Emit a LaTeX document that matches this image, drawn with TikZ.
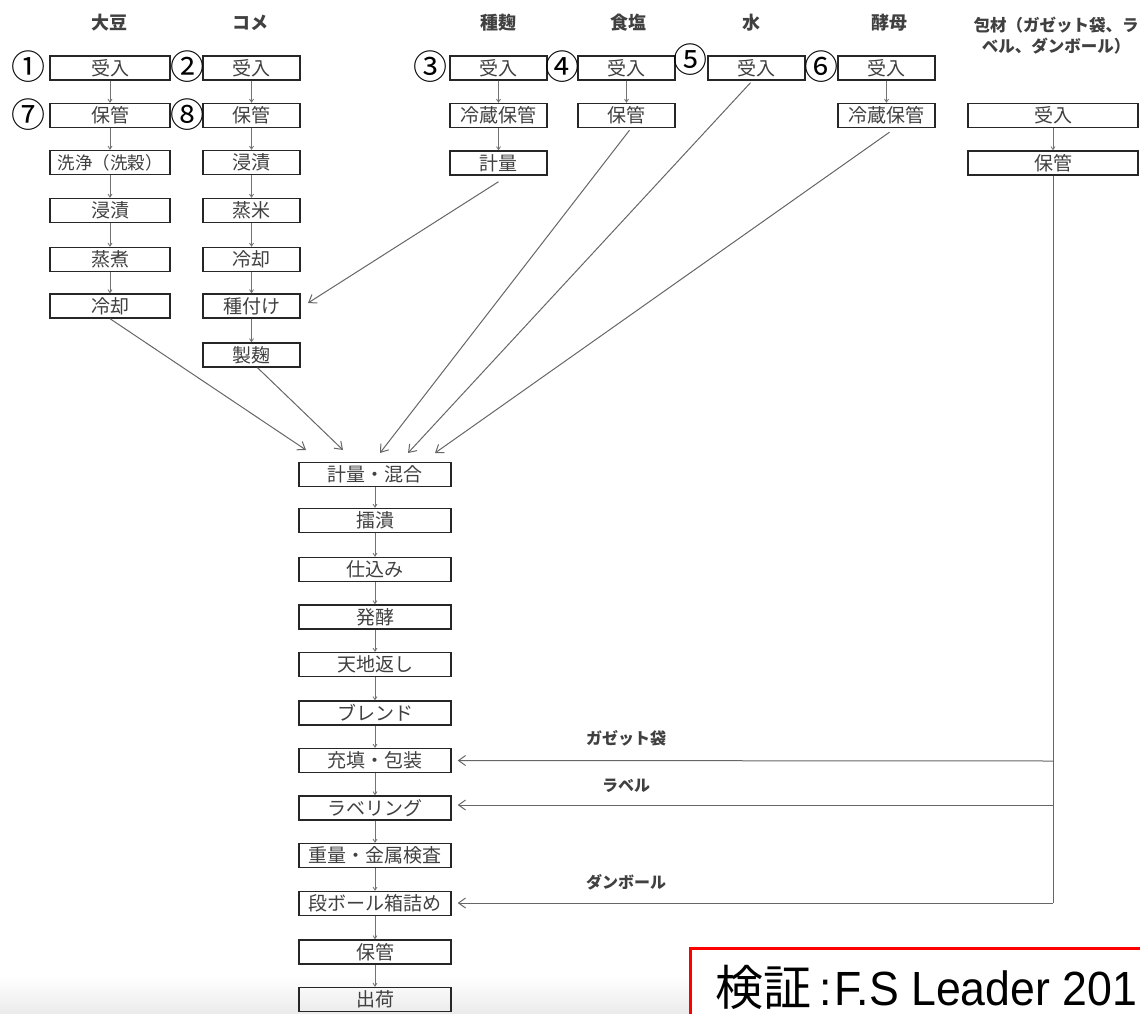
\documentclass[tikz,border=0pt]{standalone}
\usepackage{fontspec}
\setmainfont{Liberation Sans}
\newfontfamily\jp{Noto Sans CJK JP}
\usetikzlibrary{arrows.meta,calc}
\begin{document}
\begin{tikzpicture}[x=1pt,y=-1pt,
  box/.style={draw=black!85,line width=1.4pt,minimum height=24pt,inner sep=0pt,font=\jp\fontsize{19}{19}\selectfont,text=black!75},
  wA/.style={minimum width=120pt}, wB/.style={minimum width=97pt},
  wP/.style={minimum width=170pt}, wM/.style={minimum width=152pt},
  hd/.style={font=\jp\bfseries\fontsize{18}{22}\selectfont,text=black!75,inner sep=0pt,align=center},
  num/.style={font=\jp\fontsize{34}{34}\selectfont,inner sep=0pt},
  vflow/.style={draw=black!55,line width=0.8pt,-{Straight Barb[length=3pt,width=4pt]}},
  arr/.style={draw=black!60,line width=1pt,-{Straight Barb[length=7pt,width=10pt]}},
  lbl/.style={font=\jp\bfseries\fontsize{16}{16}\selectfont,text=black!75,inner sep=0pt}]
\useasboundingbox (0,0) rectangle (1140,1014);
\shade[top color=white,bottom color=black!8] (0,976) rectangle (1140,1014);

% headers
\node[hd] (h1) at (109,23) {大豆};
\node[hd] (h2) at (250,23) {コメ};
\node[hd] (h3) at (498,23) {種麹};
\node[hd] (h4) at (628,23) {食塩};
\node[hd] (h5) at (751,23) {水};
\node[hd] (h6) at (889,23) {酵母};
\node[hd,font=\jp\bfseries\fontsize{16.5}{21}\selectfont] (h7) at (1056,36) {包材（ガゼット袋、ラ\\ベル、ダンボール）};

% soybean column
\node[box,wA] (A1) at (110,68) {受入};
\node[box,wA] (A2) at (110,115.5) {保管};
\node[box,wA,font=\jp\fontsize{17.5}{17.5}\selectfont] (A3) at (110,162.5) {洗浄（洗穀）};
\node[box,wA] (A4) at (110,210.5) {浸漬};
\node[box,wA] (A5) at (110,259.5) {蒸煮};
\node[box,wA] (A6) at (110,306) {冷却};
% rice column
\node[box,wB] (B1) at (251.5,68) {受入};
\node[box,wB] (B2) at (251.5,115.5) {保管};
\node[box,wB] (B3) at (251.5,162.5) {浸漬};
\node[box,wB] (B4) at (251.5,210.5) {蒸米};
\node[box,wB] (B5) at (251.5,259.5) {冷却};
\node[box,wB] (B6) at (251.5,306) {種付け};
\node[box,wB] (B7) at (251.5,355) {製麹};
% seed koji
\node[box,wB] (K1) at (498.5,68) {受入};
\node[box,wB] (K2) at (498.5,115.5) {冷蔵保管};
\node[box,wB] (K3) at (498.5,163) {計量};
% salt
\node[box,wB] (S1) at (626.5,68) {受入};
\node[box,wB] (S2) at (626.5,115.5) {保管};
% water
\node[box,wB] (W1) at (756.5,68) {受入};
% yeast
\node[box,wB] (Y1) at (886.5,68) {受入};
\node[box,wB] (Y2) at (886.5,115.5) {冷蔵保管};
% packaging
\node[box,wP] (P1) at (1053,115.5) {受入};
\node[box,wP] (P2) at (1053,163) {保管};

% circled numbers
\node[num] (n1) at (28,67) {①};
\node[num] (n2) at (187,67) {②};
\node[num] (n3) at (430,67) {③};
\node[num] (n4) at (562,67) {④};
\node[num] (n5) at (690,60) {⑤};
\node[num] (n6) at (821,67) {⑥};
\node[num] (n7) at (28,115) {⑦};
\node[num] (n8) at (187,115) {⑧};

% main column
\node[box,wM] (M1) at (375,474.5) {計量・混合};
\node[box,wM] (M2) at (375,520.5) {擂潰};
\node[box,wM] (M3) at (375,569.5) {仕込み};
\node[box,wM] (M4) at (375,617) {発酵};
\node[box,wM] (M5) at (375,664.5) {天地返し};
\node[box,wM] (M6) at (375,713) {ブレンド};
\node[box,wM] (M7) at (375,760.5) {充填・包装};
\node[box,wM] (M8) at (375,808) {ラベリング};
\node[box,wM] (M9) at (375,855.5) {重量・金属検査};
\node[box,wM] (M10) at (375,903.5) {段ボール箱詰め};
\node[box,wM] (M11) at (375,952) {保管};
\node[box,wM] (M12) at (375,999.5) {出荷};

% vertical flows
\foreach \a/\b in {A1/A2,A2/A3,A3/A4,A4/A5,A5/A6,
  B1/B2,B2/B3,B3/B4,B4/B5,B5/B6,B6/B7,
  K1/K2,K2/K3,S1/S2,Y1/Y2,P1/P2,
  M1/M2,M2/M3,M3/M4,M4/M5,M5/M6,M6/M7,M7/M8,M8/M9,M9/M10,M10/M11,M11/M12}
  \draw[vflow] (\a.south) -- (\b.north);

% arrow tips above mixing
\coordinate (t1) at (306,450);
\coordinate (t2) at (343,450);
\coordinate (t3) at (380,453);
\coordinate (t4) at (408,453);
\coordinate (t5) at (435,453);
\coordinate (tk) at (308,303);

\draw[arr] (A6.south) -- (t1);
\draw[arr] ([xshift=6pt]B7.south) -- (t2);
\draw[arr] ([yshift=-6pt]K3.south) -- (tk);
\draw[arr] ([xshift=3pt,yshift=-2pt]S2.south) -- (t3);
\draw[arr] ([xshift=-6pt,yshift=-2pt]W1.south) -- (t4);
\draw[arr] ([xshift=3pt,yshift=-4pt]Y2.south) -- (t5);

% packaging supply line
\coordinate (p1) at (1053,761);
\coordinate (p2) at (1053,805);
\coordinate (p3) at (1053,903);
\draw[draw=black!60,line width=1pt] (P2.south) -- (p3);
\draw[arr,shorten >=6pt] (p1) -- (M7.east);
\draw[arr,shorten >=6pt] (p2) -- (M8.east |- p2);
\draw[arr,shorten >=6pt] (p3) -- (M10.east |- p3);
\node[lbl] (l1) at (626,738) {ガゼット袋};
\node[lbl] (l2) at (626,786) {ラベル};
\node[lbl] (l3) at (626,882) {ダンボール};

% verification box (cut by page edge)
\draw[draw=red,line width=3pt,fill=white] (690,948) rectangle (1160,1030);
\node[anchor=base west,inner sep=0pt] (ver) at (715,1005)
  {{\jp\fontsize{48}{48}\selectfont 検証}\hspace{8pt}\scalebox{0.93}[1]{\fontsize{48}{48}\selectfont :\hspace{3pt}F.S Leader 201}};
\end{tikzpicture}
\end{document}
